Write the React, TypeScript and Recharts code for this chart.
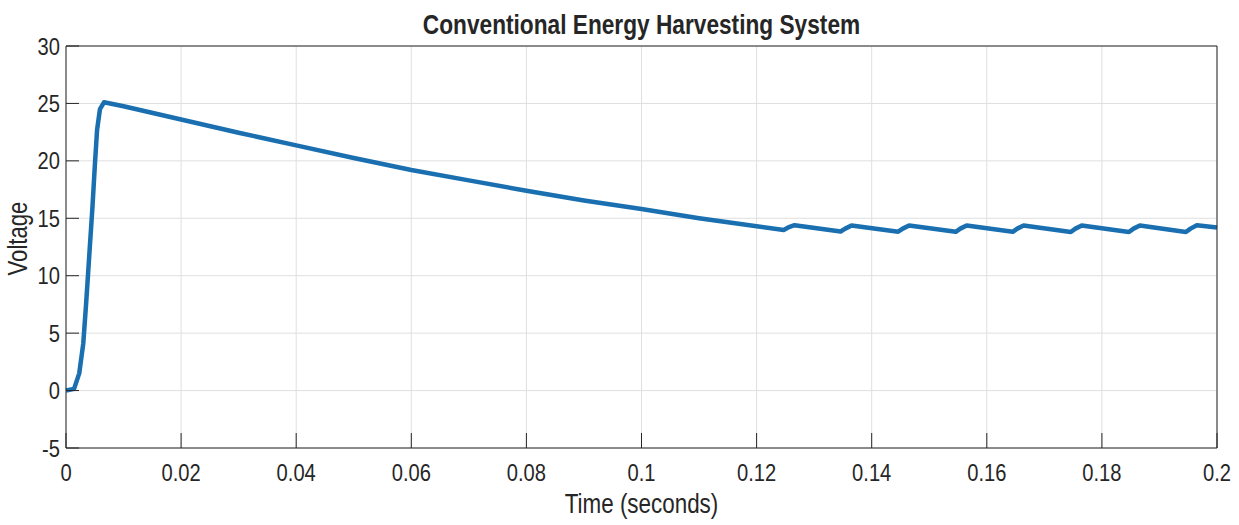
import { CartesianGrid, Line, LineChart, XAxis, YAxis } from "recharts";

// simulated voltage
const timeSeconds = [
  0, 0.0014, 0.0023, 0.003, 0.0035, 0.0041, 0.0046, 0.005, 0.0054, 0.0059, 0.0066,
  0.01, 0.02, 0.03, 0.04, 0.05, 0.06, 0.07, 0.08, 0.09, 0.1, 0.11, 0.12,
  0.1247, 0.1255, 0.1266,
  0.1346, 0.1354, 0.1365,
  0.1446, 0.1454, 0.1465,
  0.1546, 0.1554, 0.1565,
  0.1645, 0.1653, 0.1664,
  0.1746, 0.1754, 0.1765,
  0.1847, 0.1855, 0.1866,
  0.1946, 0.1954, 0.1965,
  0.2,
];

const voltage = [
  0, 0.15, 1.5, 4.1, 7.6, 12.2, 16.0, 19.5, 22.7, 24.5, 25.1,
  24.75, 23.6, 22.45, 21.35, 20.25, 19.2, 18.3, 17.4, 16.55, 15.8, 15.0, 14.3,
  13.98, 14.2, 14.4,
  13.85, 14.1, 14.38,
  13.83, 14.1, 14.38,
  13.82, 14.1, 14.38,
  13.82, 14.1, 14.38,
  13.8, 14.1, 14.38,
  13.8, 14.1, 14.38,
  13.8, 14.1, 14.4,
  14.2,
];

const timeTicks = [0, 0.02, 0.04, 0.06, 0.08, 0.1, 0.12, 0.14, 0.16, 0.18, 0.2];
const voltageTicks = [-5, 0, 5, 10, 15, 20, 25, 30];

// no narrow font installed, so squeeze Liberation Sans horizontally instead
const FONT = "'Liberation Sans', Arial, sans-serif";
const INK = "#262626";
const TICK_FONT = 24;
const SQUEEZE = 0.84;

const data = timeSeconds.map((t, i) => ({ t, v: voltage[i] }));

// axes are mirrored so the tick marks point inward (MATLAB style);
// the labels are then put back outside the box here
function BottomTick({ x, y, payload }: any) {
  return (
    <text
      transform={`translate(${x},${y + 48}) scale(${SQUEEZE},1)`}
      textAnchor="middle"
      fill={INK}
      fontSize={TICK_FONT}
      fontFamily={FONT}
    >
      {String(payload.value)}
    </text>
  );
}

function LeftTick({ x, y, payload }: any) {
  return (
    <text
      transform={`translate(${x - 19},${y + 8.5}) scale(${SQUEEZE},1)`}
      textAnchor="end"
      fill={INK}
      fontSize={TICK_FONT}
      fontFamily={FONT}
    >
      {String(payload.value)}
    </text>
  );
}

export default function App() {
  return (
    <div
      style={{
        position: "absolute",
        left: 0,
        top: 0,
        width: 1239,
        height: 525,
        background: "#fff",
        fontFamily: FONT,
        color: INK,
      }}
    >
      <LineChart
        width={1239}
        height={525}
        data={data}
        margin={{ top: 46, right: 22, bottom: 77, left: 66 }}
      >
        <CartesianGrid stroke="#dfdfdf" />
        <XAxis
          dataKey="t"
          type="number"
          domain={[0, 0.2]}
          ticks={timeTicks}
          interval={0}
          height={1}
          mirror
          tickSize={15}
          tickMargin={0}
          stroke={INK}
          tick={<BottomTick />}
        />
        <XAxis
          xAxisId="top"
          orientation="top"
          type="number"
          domain={[0, 0.2]}
          ticks={timeTicks}
          interval={0}
          height={1}
          mirror
          tickSize={15}
          tick={false}
          stroke={INK}
        />
        <YAxis
          type="number"
          domain={[-5, 30]}
          ticks={voltageTicks}
          interval={0}
          width={1}
          mirror
          tickSize={13}
          tickMargin={0}
          stroke={INK}
          tick={<LeftTick />}
        />
        <YAxis
          yAxisId="right"
          orientation="right"
          type="number"
          domain={[-5, 30]}
          ticks={voltageTicks}
          interval={0}
          width={1}
          mirror
          tickSize={13}
          tick={false}
          stroke={INK}
        />
        <Line
          dataKey="v"
          type="linear"
          stroke="#1a6fb0"
          strokeWidth={4.5}
          strokeLinejoin="round"
          dot={false}
          activeDot={false}
          isAnimationActive={false}
        />
      </LineChart>

      <div
        style={{
          position: "absolute",
          left: 67,
          width: 1149,
          top: 12,
          textAlign: "center",
          fontSize: 27,
          lineHeight: "27px",
          fontWeight: "bold",
          transform: "scaleX(0.84)",
        }}
      >
        Conventional Energy Harvesting System
      </div>
      <div
        style={{
          position: "absolute",
          left: 67,
          width: 1149,
          top: 491,
          textAlign: "center",
          fontSize: 27,
          lineHeight: "27px",
          transform: "scaleX(0.83)",
        }}
      >
        Time (seconds)
      </div>
      <div
        style={{
          position: "absolute",
          left: -82,
          width: 200,
          top: 225,
          textAlign: "center",
          fontSize: 27,
          lineHeight: "27px",
          transform: "rotate(-90deg) scaleX(0.82)",
        }}
      >
        Voltage
      </div>
    </div>
  );
}
